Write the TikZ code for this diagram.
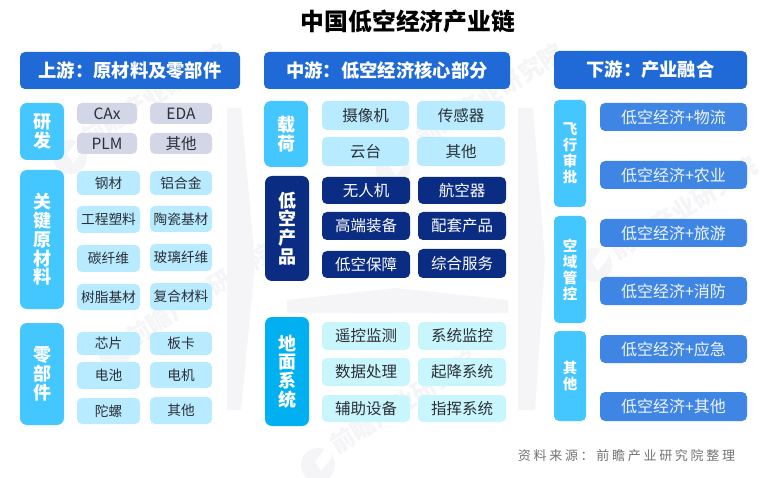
\documentclass[tikz,border=0pt]{standalone}
\usepackage{fontspec}
\setmainfont{Noto Sans CJK SC}
\usetikzlibrary{calc}
\definecolor{hdr}{HTML}{1F6AD6}
\definecolor{cyanbar}{HTML}{44C6FF}
\definecolor{deepcyan}{HTML}{00B0F0}
\definecolor{lightc}{HTML}{B8EBFF}
\definecolor{palec}{HTML}{C9F5FD}
\definecolor{greyc}{HTML}{D3D6E6}
\definecolor{navy}{HTML}{0A2C82}
\definecolor{midb}{HTML}{3F86E4}
\definecolor{tx}{HTML}{2B2F36}
\definecolor{wm}{HTML}{F5F5F7}
\tikzset{x=1pt,y=-1pt,
  base/.style={rounded corners=5pt,inner sep=0pt,align=center},
  header/.style={base,fill=hdr,text=white,font=\fontsize{18.3}{20}\selectfont\bfseries},
  side/.style={base,rounded corners=7pt,fill=cyanbar,text=white,font=\fontsize{18}{18.8}\selectfont\bfseries},
  sidesm/.style={base,rounded corners=5pt,fill=cyanbar,text=white,font=\fontsize{14.5}{16}\selectfont\bfseries},
  sidenavy/.style={side,fill=navy},
  sidedeep/.style={side,fill=deepcyan},
  grey/.style={base,fill=greyc,text=tx,font=\fontsize{15.5}{17}\selectfont},
  lite/.style={base,fill=lightc,text=tx,font=\fontsize{13.7}{15}\selectfont},
  litebig/.style={base,fill=lightc,text=tx,font=\fontsize{15.5}{17}\selectfont},
  pale/.style={base,fill=palec,text=tx,font=\fontsize{15.5}{17}\selectfont},
  navybox/.style={base,fill=navy,text=white,font=\fontsize{15.5}{17}\selectfont},
  merge/.style={base,fill=midb,text=white!92!midb,font=\fontsize{16}{18}\selectfont},
  wmtext/.style={text=wm,font=\fontsize{24}{26}\selectfont\bfseries,rotate=32,inner sep=0pt},
  title/.style={inner sep=0pt,text=black,font=\fontsize{23.8}{26}\selectfont\bfseries},
  source/.style={inner sep=0pt,text=black!55,font=\fontsize{13}{15}\selectfont}
}
% name, x0, y0, x1, y1, style, text
\newcommand{\bx}[7]{\node[#6,minimum width=#4pt-#2pt,minimum height=#5pt-#3pt] (#1) at ({(#2+#4)/2},{(#3+#5)/2}) {#7};}
\newcommand{\wmlogo}[2]{\fill[wm] (#1,#2) circle[radius=17];\fill[white] (#1-3,#2-3) -- (#1+8,#2-18) -- (#1+14,#2-8) -- (#1+3,#2+6) -- cycle;}
\begin{document}
\begin{tikzpicture}
\useasboundingbox (0,0) rectangle (760,478);
\fill[white] (0,0) rectangle (760,478);
% watermark
\begin{scope}
\clip (0,0) rectangle (760,478);
\fill[wm] (227,108) -- (241,108) -- (255,263) -- (241,410) -- (227,410) -- cycle;
\fill[wm] (518,108) -- (533,108) -- (545,260) -- (535,410) -- (518,410) -- cycle;
\fill[wm] (287,300) -- (396,288) -- (508,300) -- (508,313) -- (287,313) -- cycle;
\wmlogo{70}{157}
\wmlogo{393}{170}
\wmlogo{595}{265}
\wmlogo{115}{350}
\wmlogo{318}{465}
\node[wmtext] (wm1) at (155,95) {前瞻产业研究院};
\node[wmtext] (wm2) at (490,95) {前瞻产业研究院};
\node[wmtext] (wm3) at (684,208) {前瞻产业研究院};
\node[wmtext] (wm4) at (200,295) {前瞻产业研究院};
\node[wmtext] (wm6) at (404,402) {前瞻产业研究院};
\end{scope}
\node[title] (t) at (408,22) {中国低空经济产业链};
\bx{h1}{20}{52}{240}{89}{header}{上游：原材料及零部件}
\bx{h2}{264}{52}{510}{89}{header}{中游：低空经济核心部分}
\bx{h3}{554}{51}{747}{89}{header}{下游：产业融合}
% column 1
\bx{a1}{20}{103}{64}{160}{side}{研\\发}
\bx{a2}{77}{103}{137}{124}{grey}{CAx}
\bx{a3}{150}{103}{212}{124}{grey}{EDA}
\bx{a4}{77}{133}{137}{154}{grey}{PLM}
\bx{a5}{150}{133}{212}{154}{grey}{其他}
\bx{b1}{20}{170}{64}{309}{side}{关\\键\\原\\材\\料}
\bx{b2}{77}{171}{140}{195}{lite}{钢材}
\bx{b3}{150}{171}{212}{195}{lite}{铝合金}
\bx{b4}{77}{206}{140}{233}{lite}{工程塑料}
\bx{b5}{150}{206}{212}{232}{lite}{陶瓷基材}
\bx{b6}{77}{245}{140}{272}{lite}{碳纤维}
\bx{b7}{150}{244}{212}{271}{lite}{玻璃纤维}
\bx{b8}{77}{284}{140}{310}{lite}{树脂基材}
\bx{b9}{150}{283}{212}{310}{lite}{复合材料}
\bx{c1}{20}{323}{64}{425}{side}{零\\部\\件}
\bx{c2}{77}{332}{140}{355}{lite}{芯片}
\bx{c3}{150}{332}{212}{355}{lite}{板卡}
\bx{c4}{77}{362}{140}{389}{lite}{电池}
\bx{c5}{150}{362}{212}{388}{lite}{电机}
\bx{c6}{77}{398}{140}{424}{lite}{陀螺}
\bx{c7}{150}{397}{212}{424}{lite}{其他}
% column 2
\bx{d1}{264}{101}{308}{167}{side}{载\\荷}
\bx{d2}{322}{101}{409}{130}{litebig}{摄像机}
\bx{d3}{417}{101}{505}{130}{litebig}{传感器}
\bx{d4}{322}{137}{409}{166}{litebig}{云台}
\bx{d5}{417}{137}{505}{166}{litebig}{其他}
\bx{e1}{265}{176}{309}{281}{sidenavy}{低\\空\\产\\品}
\bx{e2}{322}{177}{410}{204}{navybox}{无人机}
\bx{e3}{418}{177}{506}{204}{navybox}{航空器}
\bx{e4}{322}{212}{410}{240}{navybox}{高端装备}
\bx{e5}{418}{212}{506}{240}{navybox}{配套产品}
\bx{e6}{322}{251}{410}{278}{navybox}{低空保障}
\bx{e7}{418}{249}{506}{278}{navybox}{综合服务}
\bx{f1}{265}{317}{309}{426}{sidedeep}{地\\面\\系\\统}
\bx{f2}{322}{322}{410}{350}{pale}{遥控监测}
\bx{f3}{418}{322}{506}{350}{pale}{系统监控}
\bx{f4}{322}{358}{410}{386}{pale}{数据处理}
\bx{f5}{418}{358}{506}{386}{pale}{起降系统}
\bx{f6}{322}{395}{410}{422}{pale}{辅助设备}
\bx{f7}{418}{395}{506}{422}{pale}{指挥系统}
% column 3
\bx{g1}{554}{100}{586}{207}{sidesm}{飞\\行\\审\\批}
\bx{g2}{554}{216}{586}{323}{sidesm}{空\\域\\管\\控}
\bx{g3}{554}{331}{586}{421}{sidesm}{其\\他}
\bx{m1}{600}{103}{747}{131}{merge}{低空经济+物流}
\bx{m2}{600}{161}{747}{189}{merge}{低空经济+农业}
\bx{m3}{600}{219}{747}{247}{merge}{低空经济+旅游}
\bx{m4}{600}{277}{747}{305}{merge}{低空经济+消防}
\bx{m5}{600}{335}{747}{363}{merge}{低空经济+应急}
\bx{m6}{600}{392}{747}{421}{merge}{低空经济+其他}
\node[source] (s) at (626.5,456) {资\hspace{2.7pt}料\hspace{2.7pt}来\hspace{2.7pt}源\hspace{2.7pt}：\hspace{2.7pt}前\hspace{2.7pt}瞻\hspace{2.7pt}产\hspace{2.7pt}业\hspace{2.7pt}研\hspace{2.7pt}究\hspace{2.7pt}院\hspace{2.7pt}整\hspace{2.7pt}理};
\end{tikzpicture}
\end{document}
